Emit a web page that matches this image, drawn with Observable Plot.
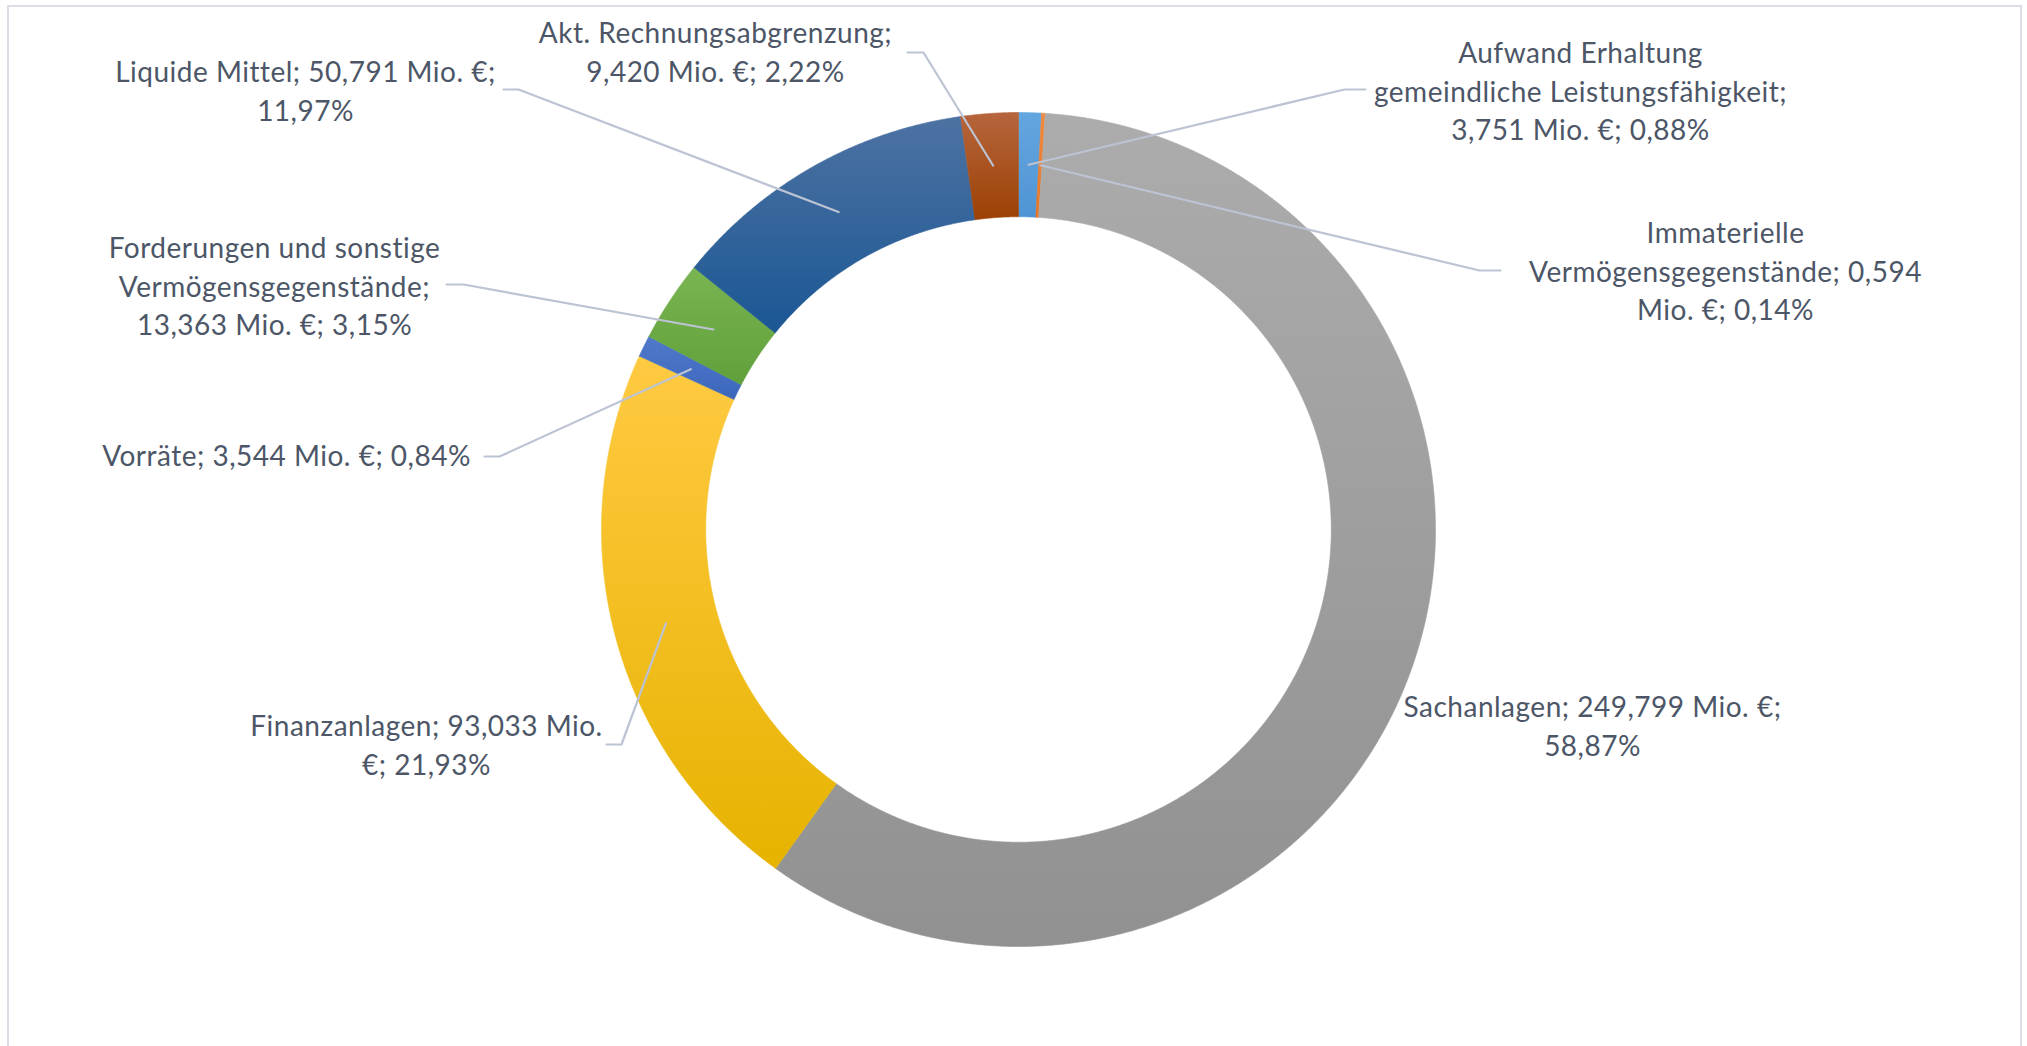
<!DOCTYPE html>
<html>
<head>
<meta charset="utf-8">
<script src="https://cdn.jsdelivr.net/npm/d3@7"></script>
<script src="https://cdn.jsdelivr.net/npm/@observablehq/plot@0.6"></script>
<style>
  html, body { margin: 0; padding: 0; background: #ffffff; }
  #wrap { position: relative; width: 2027px; height: 1046px; overflow: hidden; }
  #frame { position: absolute; left: 7px; top: 5px; width: 2015px; height: 1200px;
           border: 2px solid #dcdde7; box-sizing: border-box; }
  #chart { position: absolute; left: 0; top: 0; }
  #chart svg text { letter-spacing: 0.5px; }
</style>
</head>
<body>
<div id="wrap"><div id="frame"></div><div id="chart"></div></div>
<script>
// ---------- data (clockwise from 12 o'clock) ----------
const categories = [
  "Aufwand Erhaltung gemeindliche Leistungsfähigkeit",
  "Immaterielle Vermögensgegenstände",
  "Sachanlagen",
  "Finanzanlagen",
  "Vorräte",
  "Forderungen und sonstige Vermögensgegenstände",
  "Liquide Mittel",
  "Akt. Rechnungsabgrenzung"
];
const values = [3.751, 0.594, 249.799, 93.033, 3.544, 13.363, 50.791, 9.420]; // Mio. €
const percents = [0.88, 0.14, 58.87, 21.93, 0.84, 3.15, 11.97, 2.22];
const labelLines = [
  ["Aufwand Erhaltung", "gemeindliche Leistungsfähigkeit;", "3,751 Mio. €; 0,88%"],
  ["Immaterielle", "Vermögensgegenstände; 0,594", "Mio. €; 0,14%"],
  ["Sachanlagen; 249,799 Mio. €;", "58,87%"],
  ["Finanzanlagen; 93,033 Mio.", "€; 21,93%"],
  ["Vorräte; 3,544 Mio. €; 0,84%"],
  ["Forderungen und sonstige", "Vermögensgegenstände;", "13,363 Mio. €; 3,15%"],
  ["Liquide Mittel; 50,791 Mio. €;", "11,97%"],
  ["Akt. Rechnungsabgrenzung;", "9,420 Mio. €; 2,22%"]
];

// ---------- styles ----------
const colorTop    = ["#64a6df", "#f08a40", "#acacac", "#ffca42", "#5079cb", "#7ab552", "#4d72a2", "#b6653d"];
const colorBottom = ["#4f94d4", "#e67422", "#919191", "#e6b300", "#3b67bb", "#60a03b", "#1b5794", "#9c4104"];

// ---------- layout (pixels) ----------
const W = 2027, H = 1046;
const CX = 1018, CY = 529, R = 417, HOLE = 0.75;
const LINE_H = 38.5;
// label block: centre x, centre y of first line, leader start (at label) and bend point
const labelLayout = [
  {cx: 1580, y0: 54,  edge: [1365, 89],  bend: [1344, 89]},
  {cx: 1725, y0: 234, edge: [1500, 270], bend: [1479, 270]},
  {cx: 1592, y0: 708, edge: null, bend: null},
  {cx: 426,  y0: 727, edge: [606, 744],  bend: [621, 744]},
  {cx: 286,  y0: 457, edge: [484, 456],  bend: [499, 456]},
  {cx: 274,  y0: 249, edge: [446, 284],  bend: [463, 284]},
  {cx: 305,  y0: 73,  edge: [503, 89],   bend: [518, 89]},
  {cx: 715,  y0: 34,  edge: [907, 52],   bend: [923, 52]}
];

// pixel -> chart units (units of outer radius, y up)
const ux = px => (px - CX) / R;
const uy = py => (CY - py) / R;

// ---------- geometry from data ----------
const arcs = d3.pie().sort(null).value(d => d)(values);

function ringPoints(a0, a1, r0, r1) {
  const n = Math.max(2, Math.ceil((a1 - a0) / (Math.PI / 720)));
  const pts = [];
  for (let k = 0; k <= n; k++) { const a = a0 + (a1 - a0) * k / n; pts.push({x: r1 * Math.sin(a), y: r1 * Math.cos(a)}); }
  for (let k = n; k >= 0; k--) { const a = a0 + (a1 - a0) * k / n; pts.push({x: r0 * Math.sin(a), y: r0 * Math.cos(a)}); }
  pts.push(pts[0]);
  return pts;
}

const marks = [];
arcs.forEach((a, i) => {
  marks.push(Plot.line(ringPoints(a.startAngle, a.endAngle, HOLE, 1), {
    x: "x", y: "y", fill: `url(#grad${i})`, stroke: `url(#grad${i})`, strokeWidth: 0.6
  }));
});

// leader lines: label -> bend -> slice centre (mid angle, mid radius)
const leaders = [];
arcs.forEach((a, i) => {
  const L = labelLayout[i];
  if (!L.edge) return;
  const mid = (a.startAngle + a.endAngle) / 2, rm = (1 + HOLE) / 2;
  leaders.push({id: i, x: ux(L.edge[0]), y: uy(L.edge[1])});
  leaders.push({id: i, x: ux(L.bend[0]), y: uy(L.bend[1])});
  leaders.push({id: i, x: rm * Math.sin(mid), y: rm * Math.cos(mid)});
});
marks.push(Plot.line(leaders, {x: "x", y: "y", z: "id", stroke: "#bcc3d2", strokeWidth: 2.2}));

// labels
const labelRows = [];
labelLines.forEach((lines, i) => {
  const L = labelLayout[i];
  lines.forEach((t, j) => labelRows.push({x: ux(L.cx), y: uy(L.y0 + j * LINE_H), text: t}));
});
marks.push(Plot.text(labelRows, {
  x: "x", y: "y", text: "text", textAnchor: "middle",
  fontSize: 28, fontFamily: "Lato", fill: "#4c5667"
}));

const svg = Plot.plot({
  width: W, height: H, margin: 0,
  x: {domain: [ux(0), ux(W)], axis: null},
  y: {domain: [uy(H), uy(0)], axis: null},
  style: {background: "transparent", overflow: "visible"},
  marks
});

const defs = d3.select(svg).insert("defs", ":first-child");
colorTop.forEach((c, i) => {
  const g = defs.append("linearGradient").attr("id", `grad${i}`)
    .attr("x1", 0).attr("y1", 0).attr("x2", 0).attr("y2", 1);
  g.append("stop").attr("offset", "0%").attr("stop-color", c);
  g.append("stop").attr("offset", "100%").attr("stop-color", colorBottom[i]);
});

document.getElementById("chart").appendChild(svg);
</script>
</body>
</html>
